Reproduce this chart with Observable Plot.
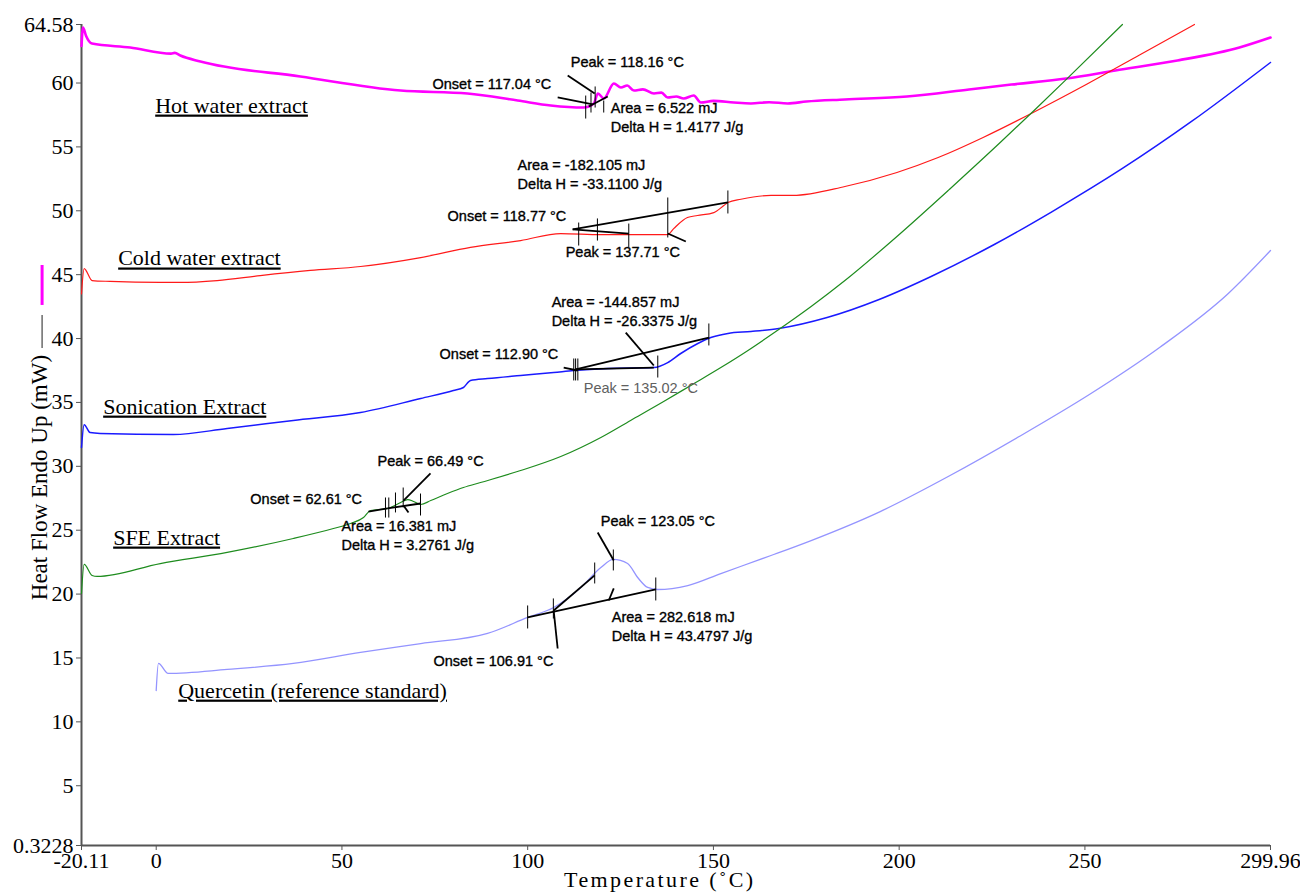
<!DOCTYPE html>
<html>
<head>
<meta charset="utf-8">
<script src="https://cdn.jsdelivr.net/npm/d3@7"></script>
<script src="https://cdn.jsdelivr.net/npm/@observablehq/plot@0.6"></script>
<style>
  html, body { margin: 0; padding: 0; background: #fff; }
  #chart svg { display: block; }
</style>
</head>
<body>
<div id="chart"></div>
<script>
// DSC thermograms: heat flow (mW) against temperature (°C)
const xTicks = [-20.11, 0, 50, 100, 150, 200, 250, 299.96];
const yTicks = [0.3228, 5, 10, 15, 20, 25, 30, 35, 40, 45, 50, 55, 60, 64.58];

const seriesNames = ["Hot water extract", "Cold water extract", "Sonication Extract", "SFE Extract", "Quercetin (reference standard)"];

// [temperature °C, heat flow mW]
const hotWater = [
  [-20.11, 62.9], [-19.7, 64.35], [-18.9, 63.7], [-17.3, 63.09], [-7.0, 62.78], [4.0, 62.3], [5.0, 62.36],
  [6.5, 62.15], [11.9, 61.68], [38.8, 60.51], [65.8, 59.41], [83.8, 59.18], [97.3, 58.63], [106.2, 58.24],
  [115.1, 58.08], [117.8, 58.4], [118.9, 59.18], [120.5, 58.79], [123.2, 59.96], [125.1, 59.65], [126.8, 59.8],
  [128.6, 59.41], [131.0, 59.5], [134.0, 59.18], [136.0, 59.25], [137.7, 58.87], [140.0, 58.95], [142.0, 58.79],
  [144.7, 59.02], [146.6, 58.47], [150.0, 58.6], [155.5, 58.47], [160.1, 58.4], [165.0, 58.5], [170.0, 58.4],
  [175.0, 58.55], [185.4, 58.71], [202.1, 58.94], [218.8, 59.49], [230.2, 59.88], [245.0, 60.35],
  [258.2, 60.98], [274.9, 61.76], [291.6, 62.78], [299.96, 63.56]
];
const coldWater = [
  [-20.11, 43.5], [-19.4, 45.48], [-17.25, 44.54], [-12.4, 44.47], [1.1, 44.39], [6.5, 44.39], [16.4, 44.54],
  [28.0, 44.93], [41.5, 45.33], [55.0, 45.64], [71.2, 46.34], [84.6, 47.13], [98.1, 47.67], [108.9, 48.22],
  [119.7, 48.14], [137.7, 48.14], [139.3, 48.6], [143.0, 49.47], [145.7, 49.63], [150.1, 49.86], [152.8, 50.41],
  [153.9, 50.65], [157.4, 50.9], [165.5, 51.2], [171.4, 51.2], [185.4, 51.9], [199.4, 53.0], [210.5, 54.17],
  [222.6, 55.74], [236.6, 57.77], [250.6, 59.92], [264.7, 62.19], [279.5, 64.58]
];
const sonication = [
  [-20.11, 31.47], [-19.4, 33.26], [-17.8, 32.64], [-15.1, 32.57], [4.6, 32.49], [19.1, 32.96], [36.9, 33.59],
  [55.0, 34.21], [71.2, 35.31], [80.0, 35.93], [82.7, 36.17], [84.6, 36.72], [89.2, 36.87], [98.1, 37.11],
  [107.0, 37.34], [112.4, 37.5], [121.6, 37.66], [134.0, 37.73], [137.7, 38.12], [141.2, 38.83], [145.8, 39.61],
  [149.3, 40.08], [153.9, 40.4], [160.1, 40.55], [167.6, 40.79], [180.6, 41.65], [194.6, 43.06], [208.6, 44.86],
  [225.6, 47.36], [241.2, 49.94], [260.1, 53.31], [278.7, 56.99], [299.96, 61.61]
];
const sfe = [
  [-20.11, 20.05], [-19.4, 22.32], [-17.25, 21.46], [-15.9, 21.38], [1.1, 22.39], [19.1, 23.26], [36.9, 24.35],
  [47.7, 25.13], [52.3, 25.52], [55.8, 25.99], [57.7, 26.54], [62.3, 26.7], [65.8, 27.17], [67.7, 27.4],
  [69.3, 27.25], [71.2, 27.01], [73.9, 27.32], [78.4, 27.87], [82.7, 28.34], [87.3, 28.73], [98.1, 29.67],
  [108.9, 30.77], [119.7, 32.26], [127.7, 33.59], [136.6, 35.07], [143.9, 36.33], [152.0, 37.73], [159.3, 39.07],
  [166.8, 40.55], [176.3, 42.51], [185.4, 44.54], [199.4, 47.99], [213.5, 51.67], [227.2, 55.34], [236.6, 57.93],
  [245.0, 60.28], [260.1, 64.58]
];
const quercetin = [
  [0.0, 12.45], [0.6, 14.57], [3.2, 13.79], [19.1, 14.1], [36.9, 14.57], [55.0, 15.43], [71.2, 16.13],
  [89.2, 16.92], [100.0, 18.17], [107.0, 18.95], [114.3, 20.52], [119.7, 22.08], [123.05, 22.71], [126.9, 22.39],
  [129.6, 21.3], [132.3, 20.52], [135.0, 20.36], [143.1, 20.67], [152.0, 21.61], [165.5, 23.02], [176.3, 24.19],
  [194.9, 26.46], [213.7, 29.28], [232.3, 32.33], [251.2, 35.62], [270.1, 39.3], [288.6, 43.53], [299.96, 46.89]
];

const seriesData = [hotWater, coldWater, sonication, sfe, quercetin];
const seriesColors = ["#ff00ff", "#ff1a1a", "#1a1aff", "#1e8c1e", "#9494ff"];
const seriesWidths = [2.6, 1.2, 1.5, 1.2, 1.3];

// Where each curve's name is written (left end, vertical middle)
const nameAt = [[-0.27, 58.24], [-10.24, 46.27], [-14.28, 34.68], [-11.59, 24.43], [5.93, 12.45]];

// Peak-analysis constructions: baselines, tangents and leaders
const analysisLines = [
  [108.07, 58.87, 117.50, 58.32], [110.77, 60.59, 118.04, 59.18], [116.43, 58.16, 121.55, 58.94],
  [112.11, 48.54, 153.89, 50.65], [112.11, 48.54, 127.21, 48.22], [137.72, 48.22, 142.57, 47.60],
  [109.69, 37.73, 113.46, 37.50], [112.92, 37.58, 148.77, 40.08], [126.40, 40.47, 133.95, 37.89], [112.92, 37.58, 133.95, 37.73],
  [57.14, 26.46, 62.26, 26.70], [73.84, 29.44, 66.57, 27.32], [62.26, 26.70, 71.15, 27.09], [66.57, 26.93, 67.92, 26.39],
  [106.99, 18.72, 108.07, 15.74], [106.99, 18.72, 118.04, 21.46], [118.85, 24.82, 123.17, 22.63],
  [99.99, 18.17, 134.48, 20.36], [121.82, 19.50, 123.17, 20.44]
];
// Limit markers: [temperature, top, bottom]
const analysisMarkers = [
  [115.62, 59.02, 57.22], [117.04, 59.26, 57.69], [118.16, 59.73, 58.08], [120.47, 58.63, 57.69],
  [113.73, 49.08, 47.28], [118.77, 49.40, 47.67], [127.21, 49.00, 47.13], [137.71, 51.04, 47.91], [153.89, 51.59, 49.79],
  [112.4, 38.44, 36.72], [112.9, 38.44, 36.72], [113.5, 38.44, 36.72], [135.02, 38.67, 36.95], [148.77, 41.18, 39.46],
  [61.72, 27.56, 25.99], [62.61, 27.56, 25.99], [64.41, 27.95, 26.39], [66.49, 28.34, 26.78], [71.15, 27.87, 26.15],
  [99.99, 19.11, 17.31], [106.91, 19.66, 18.09], [118.04, 22.47, 20.83], [123.05, 23.49, 21.85], [134.48, 21.30, 19.50]
];

// Result readouts: [text, x, y]
const readouts = [
  ["Peak = 118.16 °C", 111.58, 61.61], ["Onset = 117.04 °C", 74.38, 59.88],
  ["Area = 6.522 mJ", 122.36, 58.01], ["Delta H = 1.4177 J/g", 122.36, 56.52],
  ["Area = -182.105 mJ", 97.29, 53.54], ["Delta H = -33.1100 J/g", 97.29, 52.06],
  ["Onset = 118.77 °C", 78.43, 49.55], ["Peak = 137.71 °C", 110.23, 46.74],
  ["Area = -144.857 mJ", 106.45, 42.82], ["Delta H = -26.3375 J/g", 106.45, 41.34],
  ["Onset = 112.90 °C", 76.27, 38.75],
  ["Peak = 66.49 °C", 59.56, 30.38], ["Onset = 62.61 °C", 25.33, 27.40],
  ["Area = 16.381 mJ", 49.86, 25.29], ["Delta H = 3.2761 J/g", 49.86, 23.80],
  ["Peak = 123.05 °C", 119.66, 25.68], ["Area = 282.618 mJ", 122.63, 18.17],
  ["Delta H = 43.4797 J/g", 122.63, 16.68], ["Onset = 106.91 °C", 74.65, 14.72]
];
const greyReadouts = [["Peak = 135.02 °C", 115.08, 36.09]];

const xLabel = "Temperature (˚C)";
const yLabel = "Heat Flow Endo Up (mW)";

const serif = "'Liberation Serif', 'Times New Roman', serif";
const sans = "'Liberation Sans', Arial, sans-serif";

const lineMarks = seriesData.map((pts, i) =>
  Plot.line(pts, {x: d => d[0], y: d => d[1], stroke: seriesColors[i], strokeWidth: seriesWidths[i], curve: "monotone-x"})
);

const chart = Plot.plot({
  width: 1300,
  height: 892,
  marginLeft: 81,
  marginRight: 30,
  marginTop: 24,
  marginBottom: 47,
  x: {domain: [-20.11, 299.96]},
  y: {domain: [0.3228, 64.58]},
  style: {fontFamily: serif, fontSize: "22px", color: "black", background: "white"},
  marks: [
    Plot.axisX({ticks: xTicks, tickFormat: d => String(d), tickSize: 5, tickPadding: 2, label: null, stroke: "#555", fill: "black"}),
    Plot.axisY({ticks: yTicks, tickFormat: d => String(d), tickSize: 5, tickPadding: 3, label: null, stroke: "#555", fill: "black"}),
    Plot.ruleX([-20.11], {stroke: "#555", strokeWidth: 2}),
    Plot.ruleY([0.3228], {stroke: "#555", strokeWidth: 2}),
    ...lineMarks,
    Plot.link(analysisLines, {x1: d => d[0], y1: d => d[1], x2: d => d[2], y2: d => d[3], stroke: "black", strokeWidth: 1.8}),
    Plot.link(analysisMarkers, {x1: d => d[0], y1: d => d[1], x2: d => d[0], y2: d => d[2], stroke: "black", strokeWidth: 1}),
    Plot.text(readouts, {x: d => d[1], y: d => d[2], text: d => d[0], textAnchor: "start", fontFamily: sans, fontSize: 14.5, fill: "black", stroke: "black", strokeWidth: 0.35}),
    Plot.text(greyReadouts, {x: d => d[1], y: d => d[2], text: d => d[0], textAnchor: "start", fontFamily: sans, fontSize: 14.5, fill: "#606060"}),
    Plot.text(seriesNames, {x: (d, i) => nameAt[i][0], y: (d, i) => nameAt[i][1], text: d => d, textAnchor: "start", fontFamily: serif, fontSize: 22, fill: "black"}),
    // axis titles
    Plot.text([xLabel], {x: [135.56], y: [-2.4], text: d => d, fontFamily: serif, fontSize: 22, fill: "black"}),
    Plot.text([yLabel], {x: [-31.26], y: [29.12], text: d => d, rotate: -90, fontFamily: serif, fontSize: 23, fill: "black"}),
    // legend key beside the y title
    Plot.ruleX([-30.72], {y1: 41.80, y2: 39.22, stroke: "#444", strokeWidth: 1.2}),
    Plot.ruleX([-30.72], {y1: 45.72, y2: 42.59, stroke: "#ff00ff", strokeWidth: 3})
  ]
});

// underline the curve names and widen the x title
d3.select(chart).selectAll("text")
  .filter(function() { return seriesNames.includes(this.textContent); })
  .style("text-decoration", "underline");
d3.select(chart).selectAll("text")
  .filter(function() { return this.textContent === xLabel; })
  .style("letter-spacing", "2.4px");
document.getElementById("chart").append(chart);
</script>
</body>
</html>
